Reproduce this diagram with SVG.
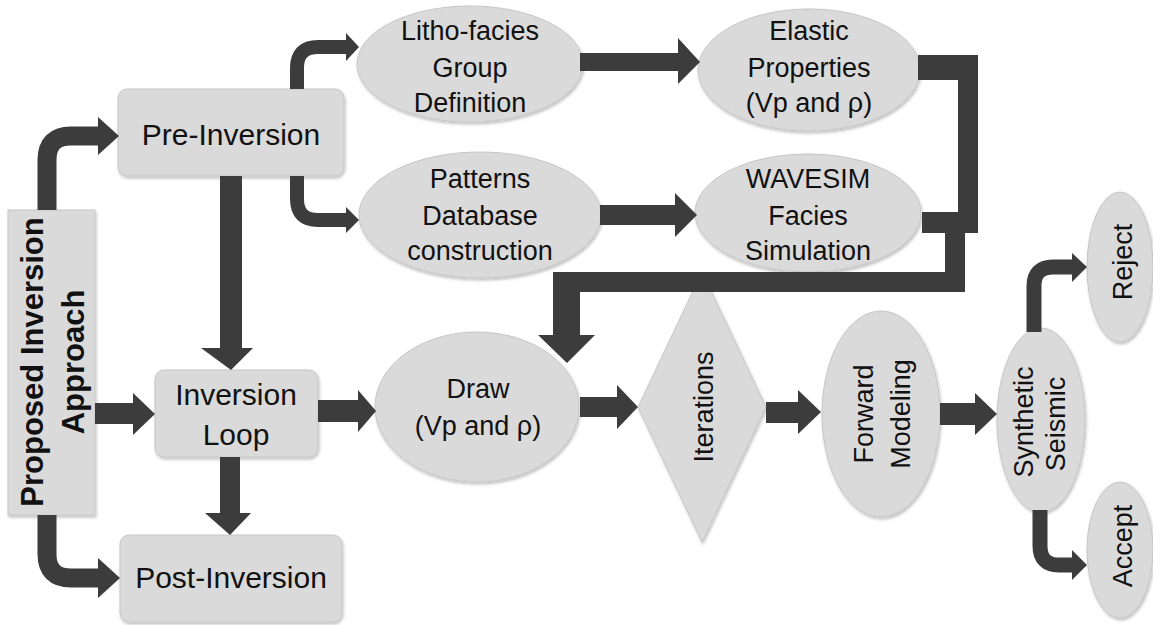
<svg xmlns="http://www.w3.org/2000/svg" width="1153" height="625" viewBox="0 0 1153 625">
<defs>
<filter id="sh" x="-10%" y="-10%" width="120%" height="125%">
<feDropShadow dx="1" dy="2" stdDeviation="1.5" flood-color="#000" flood-opacity="0.25"/>
</filter>
<style>
.node{fill:#dadada;stroke:#c6c6c6;stroke-width:1;filter:url(#sh)}
.t{font-family:"Liberation Sans",Arial,sans-serif;fill:#111;text-anchor:middle}
.b{font-size:30px}
.e{font-size:27px}
.bold{font-weight:bold;font-size:31px}
.a{fill:#3c3c3c}
.c{fill:none;stroke:#3c3c3c}
</style>
</defs>
<rect width="1153" height="625" fill="#fff"/>

<g id="proposed">
<rect class="node" x="8" y="210" width="87" height="305"/>
<text class="t bold" transform="translate(43,362) rotate(-90)">Proposed Inversion</text>
<text class="t bold" transform="translate(84,362) rotate(-90)">Approach</text>
</g>
<g id="pre-inversion">
<rect class="node" x="118" y="89" width="226" height="87" rx="9"/>
<text class="t b" x="231" y="145">Pre-Inversion</text>
</g>
<g id="inversion-loop">
<rect class="node" x="155" y="370" width="163" height="87" rx="9"/>
<text class="t b" x="236" y="405">Inversion</text>
<text class="t b" x="236" y="445">Loop</text>
</g>
<g id="post-inversion">
<rect class="node" x="120" y="535" width="222" height="87" rx="9"/>
<text class="t b" x="231" y="588">Post-Inversion</text>
</g>
<g id="litho">
<ellipse class="node" cx="470" cy="64" rx="113" ry="58"/>
<text class="t e" x="470" y="40">Litho-facies</text>
<text class="t e" x="470" y="77">Group</text>
<text class="t e" x="470" y="112">Definition</text>
</g>
<g id="patterns">
<ellipse class="node" cx="480" cy="215" rx="121" ry="63"/>
<text class="t e" x="480" y="188">Patterns</text>
<text class="t e" x="480" y="225">Database</text>
<text class="t e" x="480" y="260">construction</text>
</g>
<g id="elastic">
<ellipse class="node" cx="809" cy="70" rx="111" ry="61"/>
<text class="t e" x="809" y="40">Elastic</text>
<text class="t e" x="809" y="77">Properties</text>
<text class="t e" x="809" y="112">(Vp and ρ)</text>
</g>
<g id="wavesim">
<ellipse class="node" cx="808" cy="213" rx="113" ry="59"/>
<text class="t e" x="808" y="188">WAVESIM</text>
<text class="t e" x="808" y="225">Facies</text>
<text class="t e" x="808" y="260">Simulation</text>
</g>
<g id="draw">
<ellipse class="node" cx="477" cy="407" rx="102" ry="75"/>
<text class="t e" x="478" y="398">Draw</text>
<text class="t e" x="478" y="435">(Vp and ρ)</text>
</g>
<g id="iterations">
<polygon class="node" points="702,272 766,407 702,542 638,407"/>
<text class="t e" transform="translate(713,407) rotate(-90)">Iterations</text>
</g>
<g id="forward">
<ellipse class="node" cx="881" cy="414" rx="59" ry="103"/>
<text class="t e" transform="translate(873,414) rotate(-90)">Forward</text>
<text class="t e" transform="translate(910,414) rotate(-90)">Modeling</text>
</g>
<g id="synthetic">
<ellipse class="node" cx="1041" cy="420" rx="44" ry="92"/>
<text class="t e" transform="translate(1033,422) rotate(-90)">Synthetic</text>
<text class="t e" transform="translate(1065,424) rotate(-90)">Seismic</text>
</g>
<g id="reject">
<ellipse class="node" cx="1120" cy="267" rx="33" ry="75"/>
<text class="t e" transform="translate(1132,262) rotate(-90)">Reject</text>
</g>
<g id="accept">
<ellipse class="node" cx="1120" cy="550" rx="33" ry="68"/>
<text class="t e" transform="translate(1132,546) rotate(-90)">Accept</text>
</g>

<g id="connectors">
<!-- Proposed -> Pre-Inversion -->
<path class="c" stroke-width="19" d="M47,210 V160 Q47,136 71,136 H100"/>
<polygon class="a" points="98,117 119,136 98,155"/>
<!-- Proposed -> Post-Inversion -->
<path class="c" stroke-width="19" d="M47,515 V554 Q47,578 71,578 H100"/>
<polygon class="a" points="98,558 120,578 98,598"/>
<!-- Proposed -> Inversion Loop -->
<rect class="a" x="95" y="403" width="40" height="21"/>
<polygon class="a" points="133,393 155,414 133,435"/>
<!-- Pre -> Inversion Loop -->
<rect class="a" x="220" y="176" width="22" height="173"/>
<polygon class="a" points="201,348 231,370 253,348"/>
<!-- Inversion Loop -> Post -->
<rect class="a" x="220" y="457" width="20" height="57"/>
<polygon class="a" points="205,513 230,535 251,513"/>
<!-- Inversion Loop -> Draw -->
<rect class="a" x="318" y="400" width="41" height="22"/>
<polygon class="a" points="358,390 376,411 358,432"/>
<!-- Pre -> Litho -->
<path class="c" stroke-width="14" d="M297,89 V68 Q297,47 318,47 H348"/>
<polygon class="a" points="346,33 359,47 346,61"/>
<!-- Pre -> Patterns -->
<path class="c" stroke-width="14" d="M297,176 V199 Q297,220 318,220 H348"/>
<polygon class="a" points="346,207 359,220 346,233"/>
<!-- Litho -> Elastic -->
<rect class="a" x="580" y="53" width="100" height="18"/>
<polygon class="a" points="678,38 700,62 678,84"/>
<!-- Patterns -> WAVESIM -->
<rect class="a" x="600" y="205" width="77" height="20"/>
<polygon class="a" points="675,193 697,215 675,237"/>
<!-- Elastic + WAVESIM -> Draw -->
<rect class="a" x="918" y="55" width="60" height="25"/>
<rect class="a" x="958" y="55" width="20" height="178"/>
<rect class="a" x="922" y="212" width="56" height="21"/>
<rect class="a" x="945" y="212" width="20" height="80"/>
<rect class="a" x="553" y="272" width="412" height="20"/>
<rect class="a" x="553" y="272" width="27" height="65"/>
<polygon class="a" points="538,335 567,363 595,335"/>
<!-- Draw -> Iterations -->
<rect class="a" x="580" y="397" width="38" height="20"/>
<polygon class="a" points="617,385 638,407 617,429"/>
<!-- Iterations -> Forward -->
<rect class="a" x="766" y="402" width="33" height="21"/>
<polygon class="a" points="798,390 821,412 798,434"/>
<!-- Forward -> Synthetic -->
<rect class="a" x="940" y="403" width="36" height="22"/>
<polygon class="a" points="975,393 997,414 975,435"/>
<!-- Synthetic -> Reject -->
<path class="c" stroke-width="15" d="M1034,332 V286 Q1034,267 1053,267 H1074"/>
<polygon class="a" points="1072,253 1087,267 1072,282"/>
<!-- Synthetic -> Accept -->
<path class="c" stroke-width="15" d="M1040,510 V546 Q1040,565 1059,565 H1074"/>
<polygon class="a" points="1072,550 1087,565 1072,580"/>
</g>
</svg>
